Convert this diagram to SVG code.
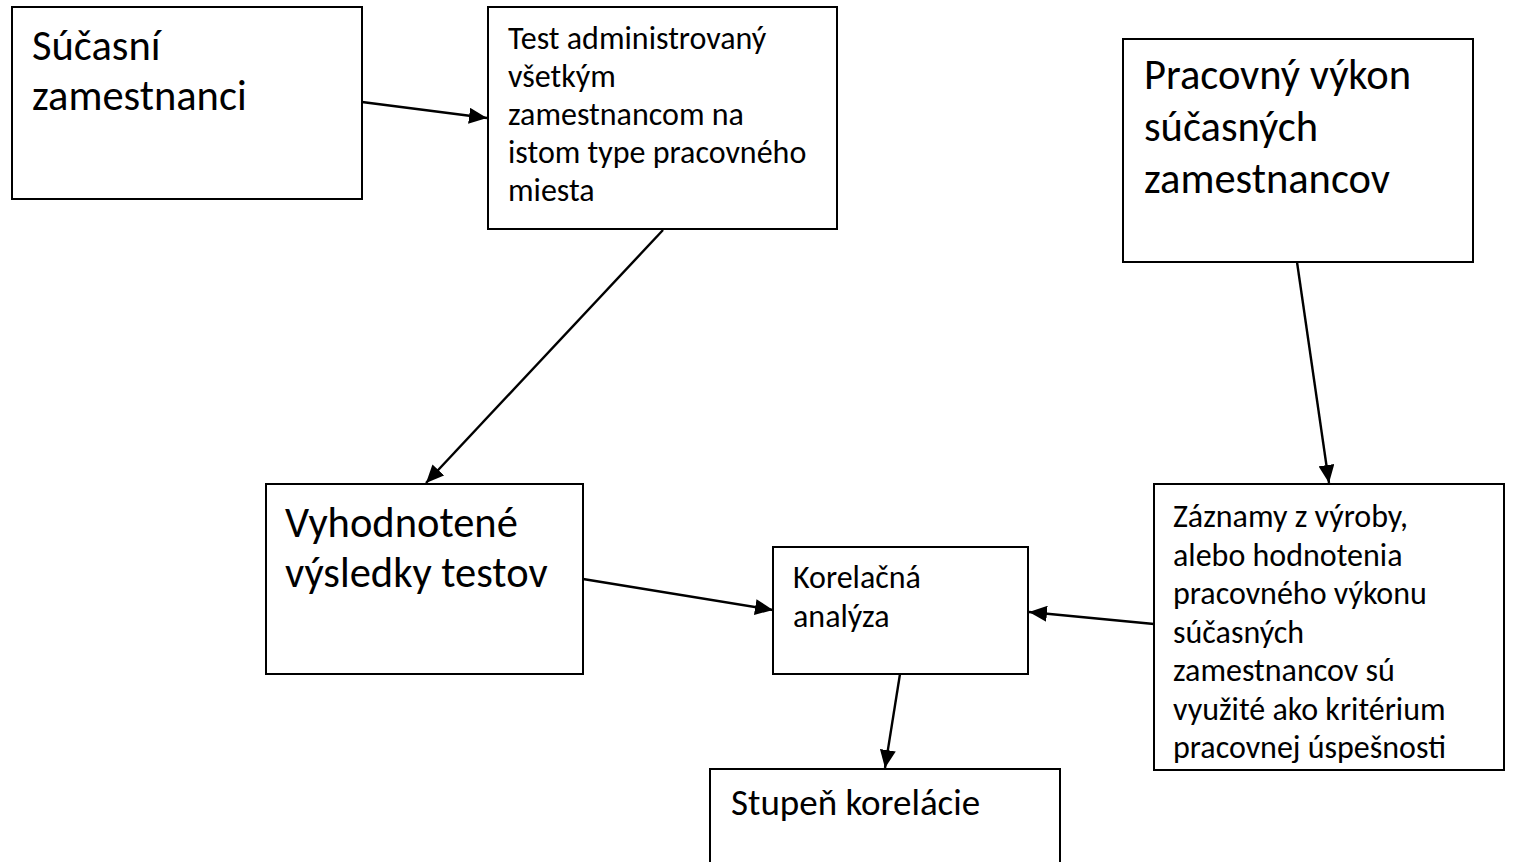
<svg xmlns="http://www.w3.org/2000/svg" width="1513" height="862" viewBox="0 0 1513 862">
  <style>
    .box { fill: #ffffff; stroke: #000000; stroke-width: 2; }
    .lbl { font-family: Carlito, Lato, "Liberation Sans", sans-serif; fill: #000000; }
    .big { font-size: 42.5px; }
    .small { font-size: 32px; }
    .mid { font-size: 37px; }
    .edge { stroke: #000000; stroke-width: 2.4; fill: none; marker-end: url(#arrow); }
  </style>
  <defs>
    <marker id="arrow" markerUnits="userSpaceOnUse" markerWidth="20" markerHeight="16" refX="18" refY="8" orient="auto">
      <path d="M0,0 L18,8 L0,16 Z" fill="#000000"/>
    </marker>
  </defs>
  <rect width="1513" height="862" fill="#ffffff"/>

  <g id="connectors">
    <line class="edge" x1="362" y1="102" x2="487" y2="118"/>
    <line class="edge" x1="663" y1="230" x2="426" y2="483"/>
    <line class="edge" x1="1297" y1="262" x2="1329" y2="483"/>
    <line class="edge" x1="583" y1="579" x2="773" y2="610"/>
    <line class="edge" x1="1154" y1="624" x2="1029" y2="612"/>
    <line class="edge" x1="900" y1="674" x2="885" y2="768"/>
  </g>

  <g id="sucasni-zamestnanci">
    <rect class="box" x="12" y="7" width="350" height="192"/>
    <text class="lbl big" x="32" y="60">Súčasní</text>
    <text class="lbl big" x="32" y="110">zamestnanci</text>
  </g>

  <g id="test-administrovany">
    <rect class="box" x="488" y="7" width="349" height="222"/>
    <text class="lbl small" x="508" y="49">Test administrovaný</text>
    <text class="lbl small" x="508" y="87">všetkým</text>
    <text class="lbl small" x="508" y="125">zamestnancom na</text>
    <text class="lbl small" x="508" y="163">istom type pracovného</text>
    <text class="lbl small" x="508" y="201">miesta</text>
  </g>

  <g id="pracovny-vykon">
    <rect class="box" x="1123" y="39" width="350" height="223"/>
    <text class="lbl big" x="1144" y="89">Pracovný výkon</text>
    <text class="lbl big" x="1144" y="141">súčasných</text>
    <text class="lbl big" x="1144" y="193">zamestnancov</text>
  </g>

  <g id="vyhodnotene-vysledky">
    <rect class="box" x="266" y="484" width="317" height="190"/>
    <text class="lbl big" x="285" y="537">Vyhodnotené</text>
    <text class="lbl big" x="285" y="587">výsledky testov</text>
  </g>

  <g id="korelacna-analyza">
    <rect class="box" x="773" y="547" width="255" height="127"/>
    <text class="lbl small" x="793" y="588">Korelačná</text>
    <text class="lbl small" x="793" y="627">analýza</text>
  </g>

  <g id="zaznamy">
    <rect class="box" x="1154" y="484" width="350" height="286"/>
    <text class="lbl small" x="1173" y="527">Záznamy z výroby,</text>
    <text class="lbl small" x="1173" y="566">alebo hodnotenia</text>
    <text class="lbl small" x="1173" y="604">pracovného výkonu</text>
    <text class="lbl small" x="1173" y="643">súčasných</text>
    <text class="lbl small" x="1173" y="681">zamestnancov sú</text>
    <text class="lbl small" x="1173" y="720">využité ako kritérium</text>
    <text class="lbl small" x="1173" y="758">pracovnej úspešnosti</text>
  </g>

  <g id="stupen-korelacie">
    <rect class="box" x="710" y="769" width="350" height="110"/>
    <text class="lbl mid" x="731" y="815">Stupeň korelácie</text>
  </g>
</svg>
